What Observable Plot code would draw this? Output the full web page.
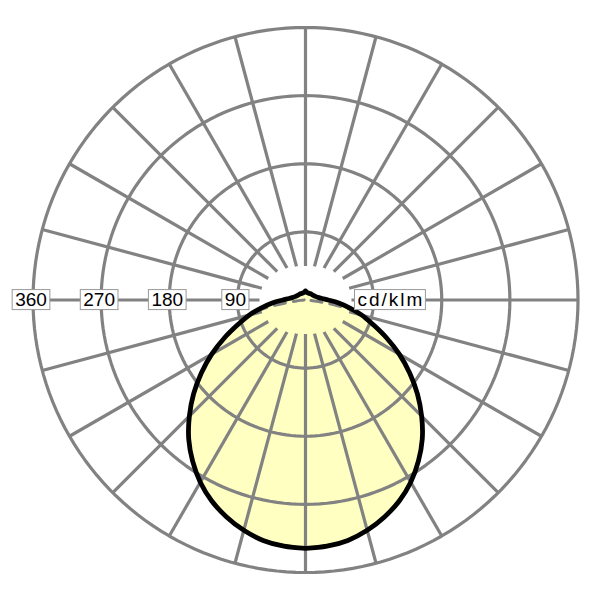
<!DOCTYPE html>
<html>
<head>
<meta charset="utf-8">
<script src="https://cdn.jsdelivr.net/npm/d3@7"></script>
<script src="https://cdn.jsdelivr.net/npm/@observablehq/plot@0.6"></script>
<style>
  html, body { margin: 0; padding: 0; background: #fff; }
</style>
</head>
<body>
<div id="chart"></div>
<script>
// ---- Data ----
// C0/C180 plane: angle from nadir (deg) and luminous intensity (cd/klm)
const gammaC0 = [0, 5, 10, 15, 20, 25, 30, 35, 40, 45, 50, 55, 60, 65, 70, 75, 80, 85, 90, 95, 100, 110, 120, 135, 150, 165, 175, 180];
const intensityC0 = [328, 326.5, 322.5, 315, 305, 293, 278, 260, 240, 217, 193, 168, 143, 118, 95, 77, 59, 44, 30, 22, 18, 14, 12, 11, 10, 10, 11, 12];
// C90/C270 plane (dashed)
const gammaC90 = [0, 10, 20, 30, 40, 50, 60, 65, 70, 75, 78, 80, 82, 84, 86, 90, 120, 150, 180];
const intensityC90 = [328, 322.5, 305, 278, 240, 193, 143, 116, 92, 73, 60, 42, 25, 12, 5, 2, 1.5, 1.5, 1.5];
// Grid rings and their labels
const ringValues = [90, 180, 270, 360];
const ringLabels = ["90", "180", "270", "360"];
const unitLabel = "cd/klm";
const spokeAngles = d3.range(0, 360, 15);

// ---- Layout ----
const W = 600, H = 600;
const cx = 305, cy = 299.5, R = 272.5;
const k = R / d3.max(ringValues);           // px per cd/klm
const xDomain = [-cx / k, (W - cx) / k];
const yDomain = [-(H - cy) / k, cy / k];
const toRad = Math.PI / 180;

function profile(gs, vs) {
  const right = gs.map((g, i) => ({x: vs[i] * Math.sin(g * toRad), y: -vs[i] * Math.cos(g * toRad)}));
  const left = gs.slice(0, -1).map((g, i) => ({x: -vs[i] * Math.sin(g * toRad), y: -vs[i] * Math.cos(g * toRad)})).reverse();
  return right.concat(left);
}
const curveC0 = profile(gammaC0, intensityC0);
const curveC90 = profile(gammaC90, intensityC90);

const ringPts = ringValues.flatMap(v => d3.range(0, 361, 2).map(a => ({v, x: v * Math.sin(a * toRad), y: v * Math.cos(a * toRad)})));
const spokes = spokeAngles.map(a => {
  const s = Math.sin(a * toRad), c = Math.cos(a * toRad);
  const r0 = (34 + 12 * s * s) / k;
  const r1 = d3.max(ringValues);
  return {x1: r0 * s, y1: r0 * c, x2: r1 * s, y2: r1 * c};
});

const gridColor = "#828282";

const chart = Plot.plot({
  width: W,
  height: H,
  margin: 0,
  x: {domain: xDomain, axis: null},
  y: {domain: yDomain, axis: null},
  marks: [
    Plot.line(curveC0, {x: "x", y: "y", fill: "#ffffc2", stroke: "none", curve: "catmull-rom"}),
    Plot.line(ringPts, {x: "x", y: "y", z: "v", stroke: gridColor, strokeWidth: 3.2}),
    Plot.link(spokes, {x1: "x1", y1: "y1", x2: "x2", y2: "y2", stroke: gridColor, strokeWidth: 3.2}),
    Plot.line(curveC90, {x: "x", y: "y", stroke: gridColor, strokeWidth: 3, strokeDasharray: "11,8", curve: "catmull-rom"}),
    Plot.line(curveC0, {x: "x", y: "y", stroke: "#000", strokeWidth: 4.8, curve: "catmull-rom"}),
    Plot.text(ringValues, {x: d => -d, y: 0, text: (d, i) => ringLabels[i], fontSize: 19, fontFamily: "Liberation Sans, Arial, sans-serif", fill: "#000", dx: -2}),
    Plot.text([unitLabel], {x: 0, y: 0, text: d => d, textAnchor: "start", dx: 52, fontSize: 19, fontFamily: "Liberation Sans, Arial, sans-serif", fill: "#000"})
  ]
});
document.getElementById("chart").append(chart);

// label boxes (white with thin gray border) behind each text
chart.querySelectorAll('g[aria-label="text"] text').forEach(t => {
  if (t.textContent === unitLabel) t.setAttribute("letter-spacing", "2");
  const b = t.getBBox();
  const r = document.createElementNS("http://www.w3.org/2000/svg", "rect");
  const padX = 3, h = 20;
  r.setAttribute("x", b.x - padX);
  r.setAttribute("width", b.width + 2 * padX - (t.textContent === unitLabel ? 2 : 0));
  r.setAttribute("y", b.y + b.height / 2 - h / 2);
  r.setAttribute("height", h);
  r.setAttribute("fill", "#fff");
  r.setAttribute("stroke", "#999");
  r.setAttribute("stroke-width", "1");
  const tr = t.getAttribute("transform");
  if (tr) r.setAttribute("transform", tr);
  t.parentNode.insertBefore(r, t);
});
</script>
</body>
</html>
